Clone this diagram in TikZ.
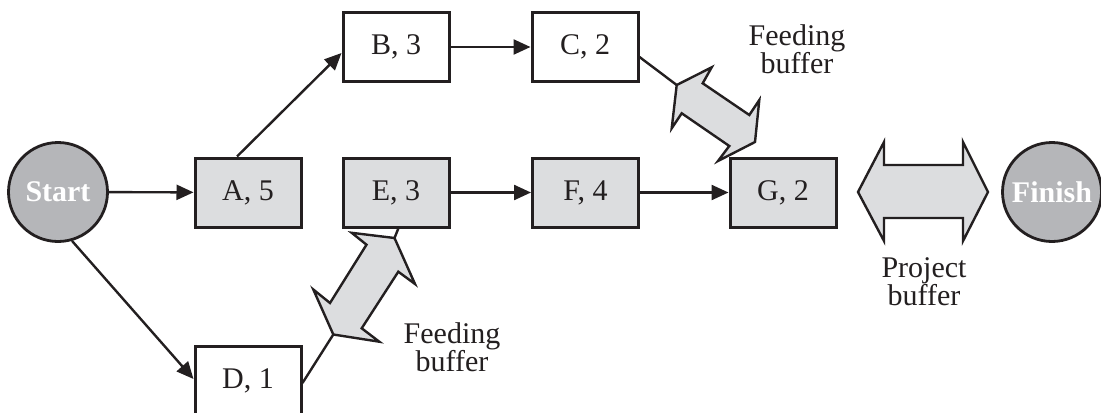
\documentclass[tikz,border=0pt]{standalone}
\usepackage{fontspec}
\setmainfont{Liberation Serif}
\usetikzlibrary{arrows.meta,calc}
\definecolor{boxgray}{RGB}{220,221,223}
\definecolor{circgray}{RGB}{181,182,185}
\definecolor{ink}{RGB}{35,31,32}
\begin{document}
\begin{tikzpicture}[x=0.5pt,y=-0.5pt,
  every node/.style={font=\fontsize{15}{14}\selectfont, text=ink},
  task/.style={draw=ink, line width=1.5pt, minimum width=53pt, minimum height=34.5pt, inner sep=0pt},
  crit/.style={task, fill=boxgray},
  plain/.style={task, fill=white},
  endpt/.style={circle, draw=ink, line width=1.4pt, fill=circgray, minimum size=49.5pt, inner sep=0pt, text=white, font=\fontsize{15}{14}\selectfont\bfseries},
  conn/.style={draw=ink, line width=1.2pt, -{Triangle[length=8.5pt,width=7.5pt]}},
  link/.style={draw=ink, line width=1.2pt},
  buffer/.style={draw=ink, line width=1.2pt, fill=boxgray, line join=miter},
  lbl/.style={align=center, inner sep=0pt}
]
\useasboundingbox (0,0) rectangle (1101,412);

% buffers
\draw[buffer] (676.7,85) -- (711.7,67.3) -- (702.7,83.3) -- (749.3,115) -- (759.3,100) -- (755,142) -- (718,161) -- (729.3,146) -- (681.7,113.3) -- (671.7,128.3) -- cycle;
\draw[buffer] (394.5,238) -- (415,284) -- (398.3,271.7) -- (361.7,328.3) -- (379.3,341.7) -- (333.3,334.5) -- (313.3,289.5) -- (330,303) -- (366.5,244.7) -- (351.7,232.8) -- cycle;
\draw[buffer] (858,192) -- (884,142) -- (884,165) -- (963,165) -- (963,142) -- (988,192) -- (963,241) -- (963,218) -- (884,218) -- (884,241) -- cycle;
\coordinate (fbA) at (676.7,85);
\coordinate (fbB1) at (333.3,334.5);
\coordinate (fbB2) at (394.5,238);

% nodes
\node[endpt] (start) at (58,192) {Start};
\node[endpt] (finish) at (1052,192) {Finish};
\node[crit] (A) at (248,192.5) {A, 5};
\node[plain] (B) at (396,47) {B, 3};
\node[plain] (C) at (585,47) {C, 2};
\node[crit] (E) at (396,192.5) {E, 3};
\node[crit] (F) at (585.5,192.5) {F, 4};
\node[crit] (G) at (783,192.5) {G, 2};
\node[plain] (D) at (248,380.5) {D, 1};

% connectors
\draw[conn] (start) -- (A);
\draw[conn] ($(A.north)+(-11,0)$) -- ($(B.west)+(0,6)$);
\draw[conn] (B) -- (C);
\draw[conn] (start.-74) -- ($(D.west)+(0,-1.5)$);
\draw[conn] (E) -- (F);
\draw[conn] (F) -- (G);
\draw[link] ($(C.east)+(0,10)$) -- (fbA);
\draw[link] ($(D.east)+(0,2.5)$) -- (fbB1);
\draw[link] (fbB2) -- ($(E.south)+(2.3,0)$);

% labels
\node[lbl] (fl1) at (797,49) {Feeding\\buffer};
\node[lbl] (fl2) at (452,347) {Feeding\\buffer};
\node[lbl] (pl) at (924,282) {Project\\buffer};
\end{tikzpicture}
\end{document}
